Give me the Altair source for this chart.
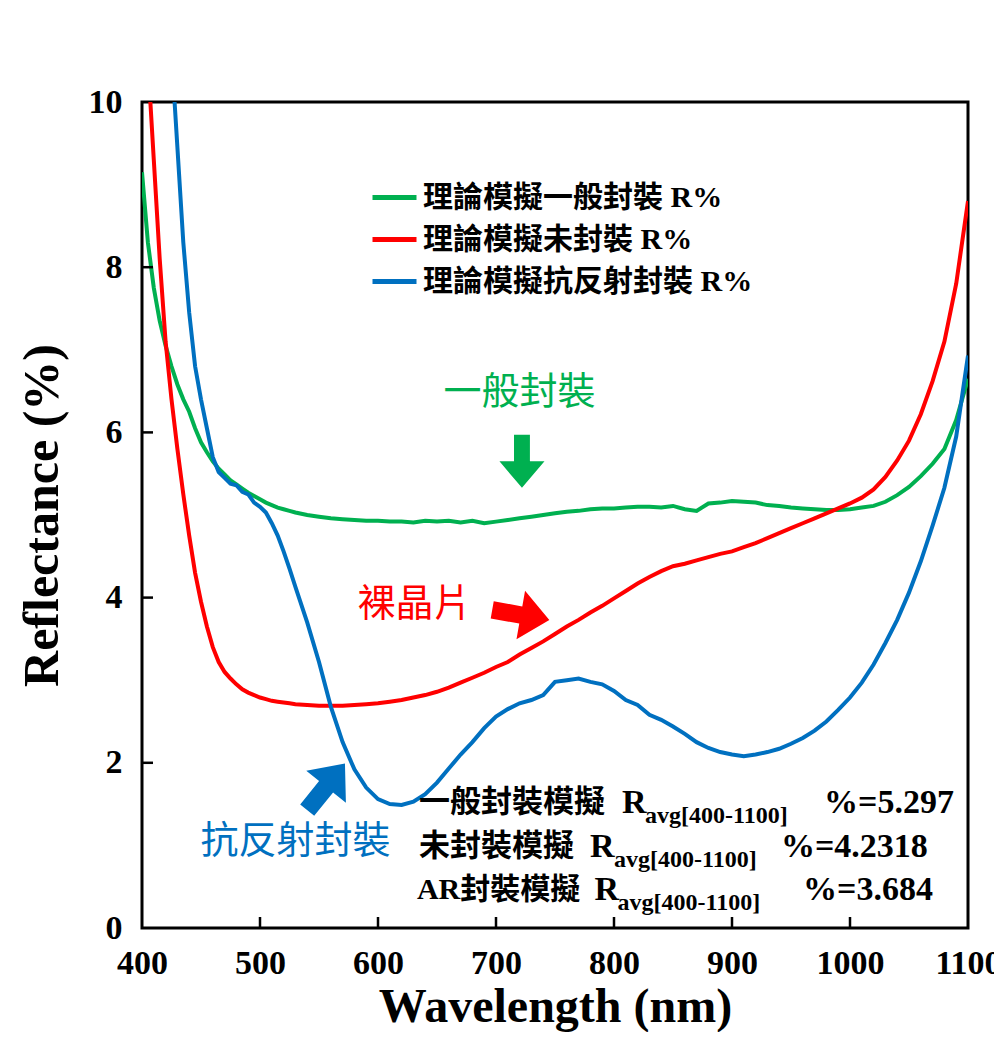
import altair as alt
import pandas as pd

# ---------------- data ----------------
wavelength = [400, 405, 410, 415, 420, 425, 430, 435, 440, 445, 450, 455, 460, 465, 470,
              475, 480, 485, 490, 495, 500, 505, 510, 515, 520, 525, 530,
              540, 550, 560, 570, 580, 590, 600, 610, 620, 630, 640, 650, 660, 670, 680,
              690, 700, 710, 720, 730, 740, 750, 760, 770, 780, 790, 800, 810, 820, 830,
              840, 850, 860, 870, 880, 890, 900, 910, 920, 930, 940, 950, 960, 970, 980,
              990, 1000, 1010, 1020, 1030, 1040, 1050, 1060, 1070, 1080, 1090, 1100]

series_names = ["理論模擬一般封裝 R%", "理論模擬未封裝 R%", "理論模擬抗反射封裝 R%"]
series_colors = ["#00B050", "#FF0000", "#0070C0"]

general_r = [9.15, 8.30, 7.75, 7.35, 7.05, 6.80, 6.58, 6.40, 6.25, 6.05, 5.88, 5.76, 5.65, 5.56, 5.49,
             5.42, 5.37, 5.32, 5.27, 5.23, 5.19, 5.15, 5.12, 5.09, 5.07, 5.05, 5.03,
             5.00, 4.98, 4.96, 4.95, 4.94, 4.93, 4.93, 4.92, 4.92, 4.91, 4.93, 4.92, 4.93, 4.91, 4.93,
             4.90, 4.92, 4.94, 4.96, 4.98, 5.00, 5.02, 5.04, 5.05, 5.07, 5.08, 5.08, 5.09, 5.10, 5.10,
             5.09, 5.11, 5.07, 5.05, 5.14, 5.15, 5.17, 5.16, 5.15, 5.12, 5.11, 5.09, 5.08, 5.07, 5.06,
             5.06, 5.07, 5.09, 5.11, 5.16, 5.24, 5.34, 5.47, 5.62, 5.80, 6.15, 6.65]

bare_r = [11.8, 10.5, 9.30, 8.10, 7.10, 6.40, 5.80, 5.25, 4.75, 4.30, 3.95, 3.65, 3.40, 3.22, 3.10,
          3.02, 2.95, 2.89, 2.85, 2.82, 2.79, 2.77, 2.75, 2.74, 2.73, 2.72, 2.71,
          2.70, 2.69, 2.69, 2.69, 2.70, 2.71, 2.72, 2.74, 2.76, 2.79, 2.82, 2.86, 2.91, 2.97, 3.03,
          3.09, 3.16, 3.22, 3.31, 3.39, 3.47, 3.56, 3.65, 3.73, 3.82, 3.90, 3.99, 4.08, 4.17, 4.25,
          4.32, 4.38, 4.41, 4.45, 4.49, 4.53, 4.56, 4.61, 4.66, 4.72, 4.78, 4.84, 4.90, 4.96, 5.02,
          5.08, 5.14, 5.21, 5.31, 5.46, 5.66, 5.90, 6.22, 6.62, 7.10, 7.80, 8.80]

ar_r = [16.0, 14.5, 13.3, 12.3, 11.5, 10.6, 9.45, 8.30, 7.45, 6.80, 6.40, 6.05, 5.70, 5.52, 5.45,
        5.38, 5.36, 5.28, 5.25, 5.15, 5.10, 5.03, 4.90, 4.75, 4.56, 4.35, 4.13,
        3.70, 3.22, 2.68, 2.25, 1.92, 1.70, 1.56, 1.50, 1.49, 1.53, 1.62, 1.76, 1.93, 2.10, 2.25,
        2.42, 2.56, 2.65, 2.72, 2.76, 2.82, 2.98, 3.00, 3.02, 2.98, 2.95, 2.87, 2.76, 2.70, 2.58,
        2.52, 2.44, 2.35, 2.25, 2.18, 2.13, 2.10, 2.08, 2.10, 2.13, 2.17, 2.23, 2.30, 2.39, 2.50,
        2.64, 2.79, 2.97, 3.19, 3.45, 3.73, 4.06, 4.44, 4.87, 5.33, 5.95, 6.93]

x_ticks = [400, 500, 600, 700, 800, 900, 1000, 1100]
y_ticks = [0, 2, 4, 6, 8, 10]
x_inner_ticks = [500, 600, 700, 800, 900, 1000]
y_inner_ticks = [2, 4, 6, 8]

# annotation labels (placed in data coordinates)
label_texts = ["一般封裝", "裸晶片", "抗反射封裝"]
label_wl = [720, 631, 530]
label_r = [6.48, 3.91, 1.04]
label_colors = ["#00B050", "#FF0000", "#0070C0"]

# arrows
arrow_wl = [722, 721, 556]
arrow_r = [5.65, 3.79, 1.71]
arrow_angle = [180, 100, 39]
arrow_size = [2809, 3364, 3600]
arrow_colors = ["#00B050", "#FF0000", "#0070C0"]

# statistics text pieces
stat_texts = ["一般封裝模擬", "R", "avg[400-1100]", "%=5.297",
              "未封裝模擬", "R", "avg[400-1100]", "%=4.2318",
              "AR封裝模擬", "R", "avg[400-1100]", "%=3.684"]
stat_wl = [634.7, 806.8, 826.3, 978.0,
           634.7, 779.7, 800.0, 941.5,
           633.0, 783.5, 803.0, 960.2]
stat_r = [1.513, 1.513, 1.356, 1.513,
          0.981, 0.981, 0.823, 0.981,
          0.460, 0.460, 0.303, 0.460]
stat_size = [31, 34, 24, 34,
             31, 34, 24, 34,
             30, 34, 24, 34]

# ---------------- tables ----------------
rows = []
for name, vals in zip(series_names, [general_r, bare_r, ar_r]):
    for w, v in zip(wavelength, vals):
        rows.append({"wl": w, "R": v, "series": name})
df = pd.DataFrame(rows)

xtick_df = pd.DataFrame({"wl": x_inner_ticks})
ytick_df = pd.DataFrame({"R": y_inner_ticks})
label_df = pd.DataFrame({"wl": label_wl, "R": label_r, "t": label_texts, "c": label_colors})
arrow_df = pd.DataFrame({"wl": arrow_wl, "R": arrow_r, "ang": arrow_angle,
                         "sz": arrow_size, "c": arrow_colors})
stat_df = pd.DataFrame({"wl": stat_wl, "R": stat_r, "t": stat_texts, "fs": stat_size})

W = 826
H = 826
xscale = alt.Scale(domain=[400, 1100], nice=False, zero=False)
yscale = alt.Scale(domain=[0, 10], nice=False, zero=False)

serif = "Liberation Serif"
mixed = "Liberation Serif, Noto Sans CJK TC"

x_axis = alt.Axis(values=x_ticks, format="d", title="Wavelength (nm)", labelFlush=False,
                  labelOverlap=False, labelPadding=18, ticks=False, domain=False,
                  grid=False, titleX=W / 2, titleY=79, titleAlign="center",
                  titleBaseline="middle", titleFontSize=48)
y_axis = alt.Axis(values=y_ticks, format="d", title="Reflectance (%)", labelFlush=False,
                  labelOverlap=False, labelPadding=20, ticks=False, domain=False,
                  grid=False, titleX=-100, titleY=H / 2, titleAngle=270,
                  titleAlign="center", titleBaseline="middle")
X = alt.X("wl:Q", scale=xscale, axis=x_axis)
Y = alt.Y("R:Q", scale=yscale, axis=y_axis)

lines = alt.Chart(df).mark_line(strokeWidth=4, clip=True).encode(
    x=X,
    y=Y,
    color=alt.Color("series:N",
                    scale=alt.Scale(domain=series_names, range=series_colors),
                    sort=series_names,
                    legend=alt.Legend(orient="none", legendX=228, legendY=71, title=None,
                                      symbolType="stroke", symbolSize=1936,
                                      symbolStrokeWidth=5, labelFont=mixed,
                                      labelFontSize=30, labelFontWeight="bold",
                                      labelColor="black", labelOffset=4, rowPadding=2,
                                      padding=0, labelLimit=0)),
    order=alt.Order("wl:Q"),
)

xticks = alt.Chart(xtick_df).mark_rule(color="black", strokeWidth=2.5).encode(
    x=X,
    y=alt.value(H), y2=alt.value(H - 11),
)
yticks = alt.Chart(ytick_df).mark_rule(color="black", strokeWidth=2.5).encode(
    y=Y,
    x=alt.value(0), x2=alt.value(11),
)

arrow_path = "M-0.3,1 L0.3,1 L0.3,0 L0.85,0 L0,-1 L-0.85,0 L-0.3,0 Z"
arrows = alt.Chart(arrow_df).mark_point(shape=arrow_path, filled=True, opacity=1,
                                        strokeWidth=0).encode(
    x=X,
    y=Y,
    fill=alt.Fill("c:N", scale=None),
    angle=alt.Angle("ang:Q", scale=None),
    size=alt.Size("sz:Q", scale=None),
)

labels = alt.Chart(label_df).mark_text(font="Noto Sans CJK TC", fontSize=38,
                                       align="center", baseline="middle").encode(
    x=X,
    y=Y,
    text="t:N",
    fill=alt.Fill("c:N", scale=None),
)

stats = alt.Chart(stat_df).mark_text(font=mixed, fontWeight="bold", align="left",
                                     baseline="middle", color="black").encode(
    x=X,
    y=Y,
    text="t:N",
    size=alt.Size("fs:Q", scale=None),
)

chart = alt.layer(lines, xticks, yticks, arrows, labels, stats).properties(
    width=W, height=H,
    padding={"left": 134, "top": 94, "right": 26, "bottom": 104},
    autosize=alt.AutoSizeParams(type="none"),
    background="white",
).configure_view(
    stroke="black", strokeWidth=3,
).configure_axis(
    labelFont=serif, labelFontWeight="bold", labelFontSize=34, labelColor="black",
    titleFont=serif, titleFontWeight="bold", titleFontSize=50, titleColor="black",
)

chart.save("out.html", embed_options={"renderer": "svg", "actions": False})
